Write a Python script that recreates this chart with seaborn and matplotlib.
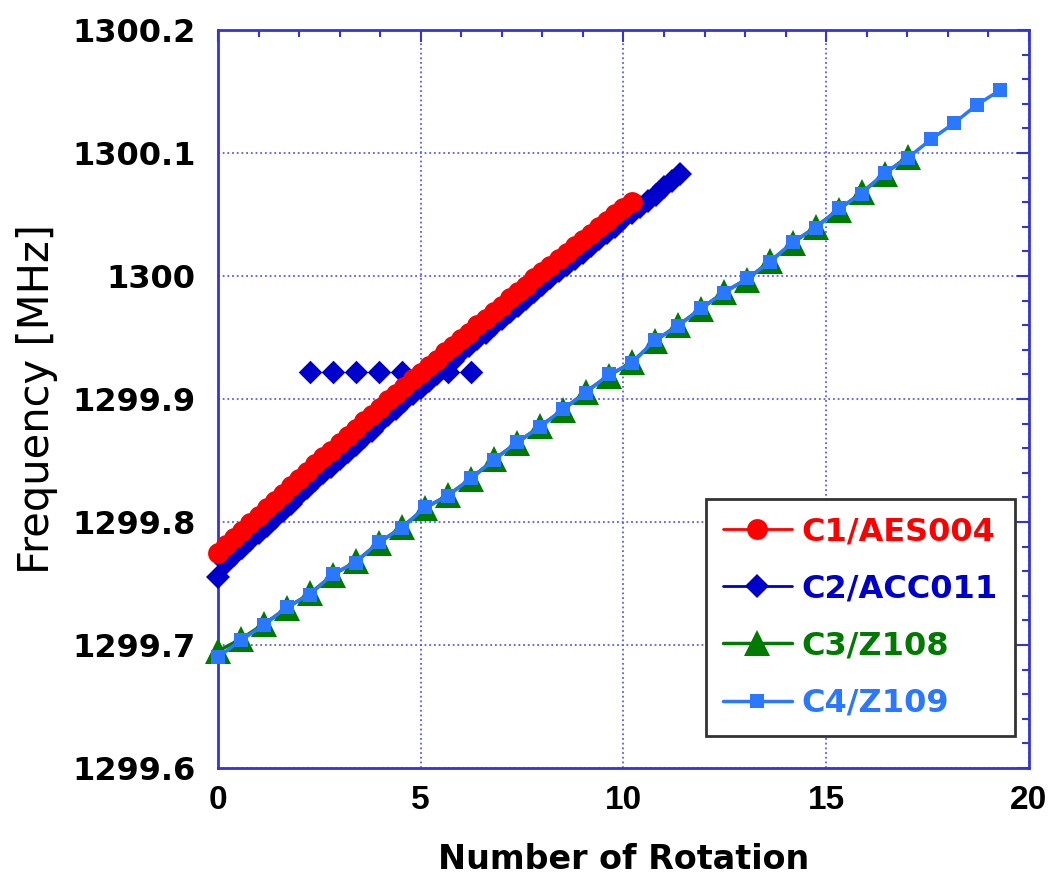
import matplotlib
matplotlib.use("Agg")
import matplotlib.pyplot as plt
from matplotlib.font_manager import FontProperties
import seaborn as sns

# ---- data -------------------------------------------------------------
rotation_c1 = [0.0, 0.2, 0.4, 0.6, 0.8, 1.0, 1.2, 1.4, 1.6, 1.8,
               2.0, 2.2, 2.4, 2.6, 2.8, 3.0, 3.2, 3.4, 3.6, 3.8,
               4.0, 4.2, 4.4, 4.6, 4.8, 5.0, 5.2, 5.4, 5.6, 5.8,
               6.0, 6.2, 6.4, 6.6, 6.8, 7.0, 7.2, 7.4, 7.6, 7.8,
               8.0, 8.2, 8.4, 8.6, 8.8, 9.0, 9.2, 9.4, 9.6, 9.8,
               10.0, 10.2]
freq_c1 = [1299.775, 1299.781, 1299.787, 1299.793, 1299.799, 1299.805, 1299.811, 1299.817, 1299.823, 1299.829,
           1299.835, 1299.841, 1299.847, 1299.853, 1299.858, 1299.864, 1299.870, 1299.876, 1299.882, 1299.887,
           1299.893, 1299.899, 1299.904, 1299.910, 1299.916, 1299.921, 1299.927, 1299.932, 1299.938, 1299.943,
           1299.949, 1299.954, 1299.960, 1299.965, 1299.971, 1299.976, 1299.982, 1299.987, 1299.992, 1299.998,
           1300.003, 1300.008, 1300.014, 1300.019, 1300.024, 1300.029, 1300.034, 1300.040, 1300.045, 1300.050,
           1300.055, 1300.060]

rotation_c2 = [0.0, 0.2, 0.4, 0.6, 0.8, 1.0, 1.2, 1.4, 1.6, 1.8,
               2.0, 2.2, 2.4, 2.6, 2.8, 3.0, 3.2, 3.4, 3.6, 3.8,
               4.0, 4.2, 4.4, 4.6, 4.8, 5.0, 5.2, 5.4, 5.6, 5.8,
               6.0, 6.2, 6.4, 6.6, 6.8, 7.0, 7.2, 7.4, 7.6, 7.8,
               8.0, 8.2, 8.4, 8.6, 8.8, 9.0, 9.2, 9.4, 9.6, 9.8,
               10.0, 10.2, 10.4, 10.6, 10.8, 11.0, 11.2, 11.4]
freq_c2 = [1299.755, 1299.767, 1299.773, 1299.779, 1299.785, 1299.791, 1299.797, 1299.803, 1299.809, 1299.815,
           1299.822, 1299.828, 1299.834, 1299.840, 1299.845, 1299.851, 1299.857, 1299.863, 1299.869, 1299.874,
           1299.881, 1299.887, 1299.892, 1299.898, 1299.904, 1299.909, 1299.915, 1299.920, 1299.926, 1299.931,
           1299.938, 1299.943, 1299.949, 1299.954, 1299.960, 1299.965, 1299.971, 1299.976, 1299.981, 1299.987,
           1299.993, 1299.998, 1300.004, 1300.009, 1300.014, 1300.019, 1300.024, 1300.030, 1300.035, 1300.040,
           1300.046, 1300.051, 1300.056, 1300.061, 1300.066, 1300.072, 1300.077, 1300.083]

# C2 readings stuck at one value during a few rotations (plotted as points only)
rotation_c2_stuck = [2.27, 2.84, 3.40, 3.97, 4.54, 5.10, 5.67, 6.24]
freq_c2_stuck = [1299.922, 1299.922, 1299.922, 1299.922, 1299.922, 1299.922, 1299.922, 1299.922]

rotation_c3 = [0.00, 0.57, 1.13, 1.70, 2.27, 2.84, 3.40, 3.97, 4.54, 5.10,
               5.67, 6.24, 6.80, 7.37, 7.94, 8.51, 9.07, 9.64, 10.21, 10.77,
               11.34, 11.91, 12.47, 13.04, 13.61, 14.18, 14.74, 15.31, 15.88, 16.44,
               17.01]
freq_c3 = [1299.695, 1299.705, 1299.717, 1299.730, 1299.742, 1299.757, 1299.768, 1299.783, 1299.796, 1299.811,
           1299.822, 1299.835, 1299.851, 1299.864, 1299.878, 1299.891, 1299.906, 1299.919, 1299.930, 1299.947,
           1299.960, 1299.973, 1299.987, 1299.997, 1300.012, 1300.027, 1300.040, 1300.054, 1300.068, 1300.083,
           1300.097]

rotation_c4 = [0.00, 0.57, 1.13, 1.70, 2.27, 2.84, 3.40, 3.97, 4.54, 5.10,
               5.67, 6.24, 6.80, 7.37, 7.94, 8.51, 9.07, 9.64, 10.21, 10.77,
               11.34, 11.91, 12.47, 13.04, 13.61, 14.18, 14.74, 15.31, 15.88, 16.44,
               17.01, 17.58, 18.14, 18.71, 19.28]
freq_c4 = [1299.690, 1299.704, 1299.716, 1299.731, 1299.741, 1299.758, 1299.767, 1299.784, 1299.795, 1299.812,
           1299.821, 1299.836, 1299.850, 1299.865, 1299.877, 1299.892, 1299.905, 1299.920, 1299.929, 1299.948,
           1299.959, 1299.974, 1299.986, 1299.998, 1300.011, 1300.028, 1300.039, 1300.055, 1300.067, 1300.084,
           1300.096, 1300.111, 1300.124, 1300.139, 1300.151]

series_names = ["C1/AES004", "C2/ACC011", "C3/Z108", "C4/Z109"]

x_ticks = [0, 5, 10, 15, 20]
x_tick_labels = ["0", "5", "10", "15", "20"]
y_ticks = [1299.6, 1299.7, 1299.8, 1299.9, 1300.0, 1300.1, 1300.2]
y_tick_labels = ["1299.6", "1299.7", "1299.8", "1299.9", "1300", "1300.1", "1300.2"]

# ---- style ------------------------------------------------------------
sns.set_theme(style="white")
plt.rcParams["font.family"] = ["DejaVu Sans"]
plt.rcParams["text.color"] = "black"
plt.rcParams["axes.labelcolor"] = "black"

axis_blue = "#3434dc"
grid_blue = "#5a5aff"
colors = {"C1/AES004": "#ff0000", "C2/ACC011": "#0000cc",
          "C3/Z108": "#007a00", "C4/Z109": "#2a78ff"}

fig = plt.figure(figsize=(10.57, 8.77), dpi=100)
ax = fig.add_axes([0.2062, 0.1243, 0.7673, 0.8415])

common = dict(ax=ax, estimator=None, sort=False, markeredgewidth=0, clip_on=False)

sns.lineplot(x=rotation_c2, y=freq_c2, color=colors["C2/ACC011"], marker="D",
             markersize=12, linewidth=2.0, label="C2/ACC011", zorder=3, **common)
sns.scatterplot(x=rotation_c2_stuck, y=freq_c2_stuck, color=colors["C2/ACC011"],
                marker="D", s=144, linewidth=0, ax=ax, legend=False, zorder=3, clip_on=False)
sns.lineplot(x=rotation_c1, y=freq_c1, color=colors["C1/AES004"], marker="o",
             markersize=15, linewidth=2.0, label="C1/AES004", zorder=4, **common)
sns.lineplot(x=rotation_c3, y=freq_c3, color=colors["C3/Z108"], marker="^",
             markersize=19, linewidth=2.5, label="C3/Z108", zorder=5, **common)
sns.lineplot(x=rotation_c4, y=freq_c4, color=colors["C4/Z109"], marker="s",
             markersize=10.5, linewidth=2.5, label="C4/Z109", zorder=6, **common)

# ---- axes -------------------------------------------------------------
ax.set_xlim(0, 20)
ax.set_ylim(1299.6, 1300.2)

xtick_font = FontProperties(family="Liberation Sans", weight="bold", size=24)
ytick_font = FontProperties(family="DejaVu Sans", weight="bold", size=23)
ax.set_xticks(x_ticks)
ax.set_xticklabels(x_tick_labels, fontproperties=xtick_font, color="black")
ax.set_yticks(y_ticks)
ax.set_yticklabels(y_tick_labels, fontproperties=ytick_font, color="black")
ax.set_xticks([v for v in range(0, 21) if v % 5], minor=True)
ax.set_yticks([1299.6 + 0.02 * i for i in range(31) if i % 5], minor=True)

ax.tick_params(axis="both", which="major", direction="in", length=8.6, width=1.5,
               color=axis_blue, top=True, right=True, labelcolor="black")
ax.tick_params(axis="both", which="minor", direction="in", length=5, width=1.5,
               color=axis_blue, top=True, right=True)
ax.tick_params(axis="x", which="major", pad=12)
ax.tick_params(axis="y", which="major", pad=16)

for spine in ax.spines.values():
    spine.set_color(axis_blue)
    spine.set_linewidth(2)
    spine.set_visible(True)

ax.grid(True, which="major", color=grid_blue, linestyle=(0, (1, 1.6)), linewidth=1.3)
ax.set_axisbelow(True)

ax.set_xlabel("Number of Rotation", color="black",
              fontproperties=FontProperties(family="DejaVu Sans", weight="bold", size=24),
              labelpad=20)
ax.set_ylabel("Frequency [MHz]", color="black",
              fontproperties=FontProperties(family="DejaVu Sans", size=30),
              labelpad=10)

# ---- legend -----------------------------------------------------------
handles, labels = ax.get_legend_handles_labels()
order = [labels.index(n) for n in series_names]
leg = ax.legend([handles[i] for i in order], [labels[i] for i in order],
                loc="lower right", bbox_to_anchor=(0.983, 0.043), borderaxespad=0,
                frameon=True, fancybox=False, edgecolor="#333333", facecolor="white",
                framealpha=1, prop=FontProperties(family="DejaVu Sans", weight="bold", size=23),
                handlelength=2.15, handletextpad=0.3, labelspacing=0.82, borderpad=0.55,
                numpoints=1)
leg.get_frame().set_linewidth(2)
for text in leg.get_texts():
    text.set_color(colors[text.get_text()])

fig.savefig("out.png", dpi=100)
